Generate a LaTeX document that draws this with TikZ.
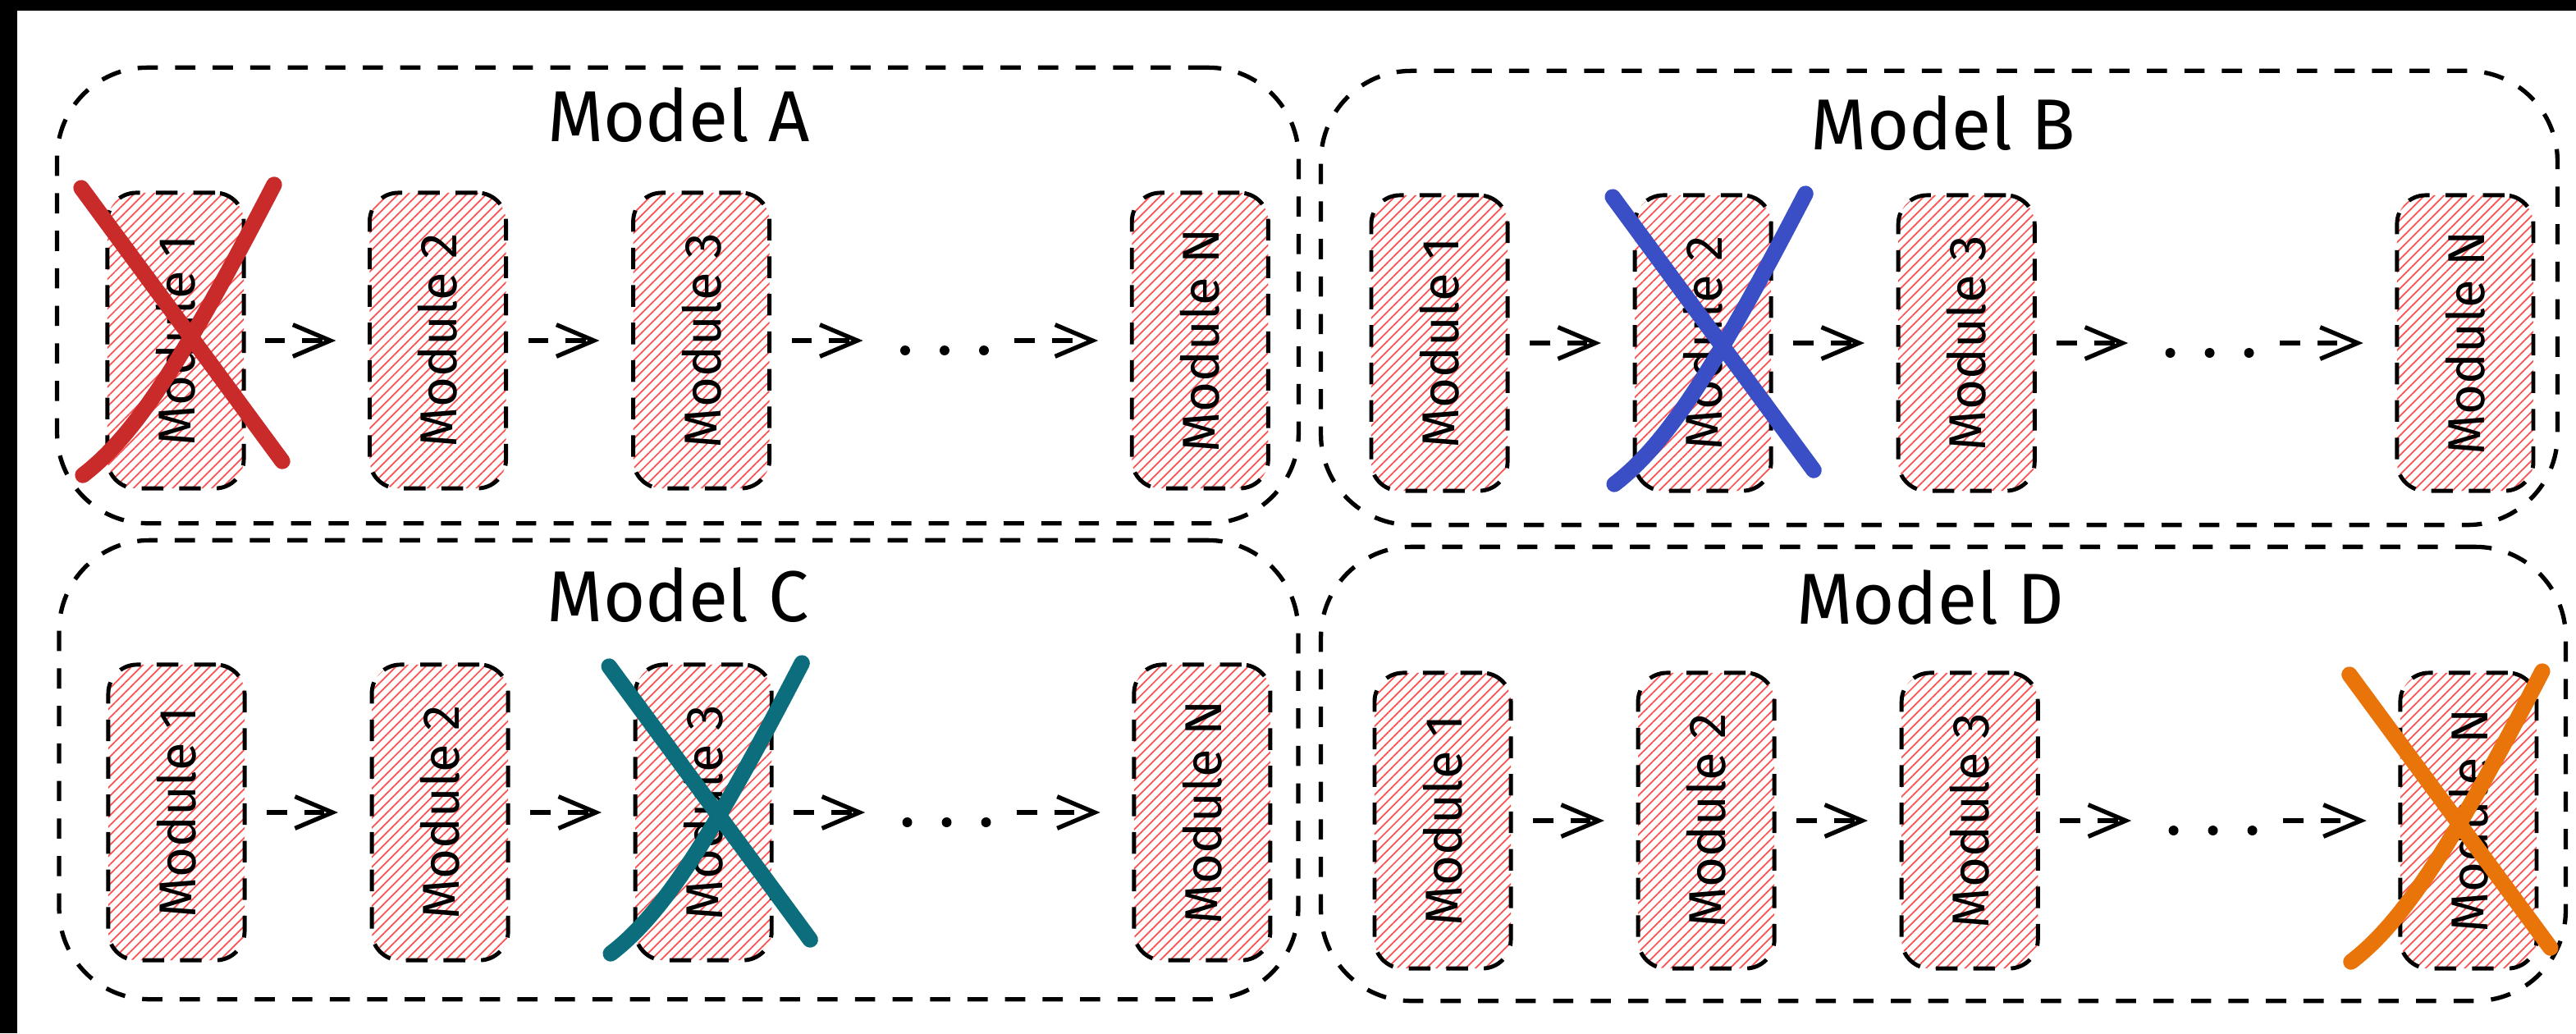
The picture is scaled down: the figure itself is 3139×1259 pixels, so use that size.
\documentclass[tikz,border=0pt]{standalone}
\usepackage{fontspec}
\setmainfont{Fira Sans}
\usepackage{graphicx}
\usetikzlibrary{arrows.meta, positioning, calc, patterns.meta}
\definecolor{hatchred}{RGB}{250,82,82}
\definecolor{crossA}{RGB}{201,42,42}
\definecolor{crossB}{RGB}{58,78,198}
\definecolor{crossC}{RGB}{12,110,125}
\definecolor{crossD}{RGB}{232,116,10}
\tikzstyle{modelbox} = [draw, line width=1.5pt, dash pattern=on 7pt off 6pt, rounded corners=1.1cm, inner sep=0pt]
\tikzstyle{title} = [font=\fontsize{25}{30}\selectfont, anchor=base, inner sep=0pt]
\tikzstyle{module} = [draw, line width=1.4pt, dash pattern=on 7.5pt off 5.5pt, rounded corners=0.35cm, minimum width=1.66cm, minimum height=3.6cm, inner sep=0pt, pattern={Lines[angle=45, distance=2.4pt, line width=0.5pt]}, pattern color=hatchred, font=\fontsize{18}{22}\selectfont]
\tikzstyle{dotsbox} = [minimum width=1.2cm, inner sep=0pt]
\tikzstyle{flow} = [draw, line width=1.5pt, dash pattern=on 7pt off 6pt, shorten <=7pt, shorten >=11pt, -{Straight Barb[length=13pt, width=11pt]}]
\tikzstyle{cross} = [line width=5.5pt, line cap=round]
\newcommand{\crossmodule}[2]{%
  \draw[cross, #2] ($(#1)+(-120,-178)$) -- ($(#1)+(125,155)$);
  \draw[cross, #2] ($(#1)+(115,-182)$) .. controls ($(#1)+(10,20)$) and ($(#1)+(-50,120)$) .. ($(#1)+(-118,172)$);
}
\begin{document}
\begin{tikzpicture}[x=0.01cm, y=-0.01cm]
\useasboundingbox (0,0) rectangle (3139,1259);
\fill[white] (0,0) rectangle (3139,1259);
\fill[black] (0,0) rectangle (3139,13);
\fill[black] (0,0) rectangle (21,1259);

\node [modelbox, minimum width=15.12cm, minimum height=5.55cm] (modelA) at (826,360) {};
\node [modelbox, minimum width=15.06cm, minimum height=5.53cm] (modelB) at (2363,363) {};
\node [modelbox, minimum width=15.09cm, minimum height=5.59cm] (modelC) at (827,938) {};
\node [modelbox, minimum width=15.16cm, minimum height=5.53cm] (modelD) at (2368,943) {};

\node [title] (tA) at (827,172) {Model A};
\node [title] (tB) at (2368,182) {Model B};
\node [title] (tC) at (826,757) {Model C};
\node [title] (tD) at (2352,760) {Model D};

\node [module] (a1) at (214,415) {\rotatebox{90}{Module 1}};
\node [module, right=1.5cm of a1] (a2) {\rotatebox{90}{Module 2}};
\node [module, right=1.5cm of a2] (a3) {\rotatebox{90}{Module 3}};
\node [dotsbox, right=1.5cm of a3] (ad) {};
\node [module, right=1.65cm of ad] (aN) {\rotatebox{90}{Module N}};

\node [module] (b1) at (1754,418) {\rotatebox{90}{Module 1}};
\node [module, right=1.5cm of b1] (b2) {\rotatebox{90}{Module 2}};
\node [module, right=1.5cm of b2] (b3) {\rotatebox{90}{Module 3}};
\node [dotsbox, right=1.5cm of b3] (bd) {};
\node [module, right=1.65cm of bd] (bN) {\rotatebox{90}{Module N}};

\node [module] (c1) at (215,990) {\rotatebox{90}{Module 1}};
\node [module, right=1.5cm of c1] (c2) {\rotatebox{90}{Module 2}};
\node [module, right=1.5cm of c2] (c3) {\rotatebox{90}{Module 3}};
\node [dotsbox, right=1.5cm of c3] (cd) {};
\node [module, right=1.65cm of cd] (cN) {\rotatebox{90}{Module N}};

\node [module] (d1) at (1758,1000) {\rotatebox{90}{Module 1}};
\node [module, right=1.5cm of d1] (d2) {\rotatebox{90}{Module 2}};
\node [module, right=1.5cm of d2] (d3) {\rotatebox{90}{Module 3}};
\node [dotsbox, right=1.5cm of d3] (dd) {};
\node [module, right=1.65cm of dd] (dN) {\rotatebox{90}{Module N}};

\foreach \m in {a,b,c,d} {
  \path [flow] (\m1) -- (\m2);
  \path [flow] (\m2) -- (\m3);
  \path [flow] (\m3) -- (\m d);
  \path [flow] (\m d) -- (\m N);
  \foreach \dx in {-48,0,48}
    \fill ($(\m d)+(\dx,12)$) circle (1.7pt);
}

\coordinate (xA) at ($(a1)+(5,-8)$);
\coordinate (xB) at ($(b2)+(10,0)$);
\coordinate (xC) at ($(c3)+(5,0)$);
\coordinate (xD) at ($(dN)+(-25,0)$);
\crossmodule{xA}{crossA}
\crossmodule{xB}{crossB}
\crossmodule{xC}{crossC}
\crossmodule{xD}{crossD}
\end{tikzpicture}
\end{document}
